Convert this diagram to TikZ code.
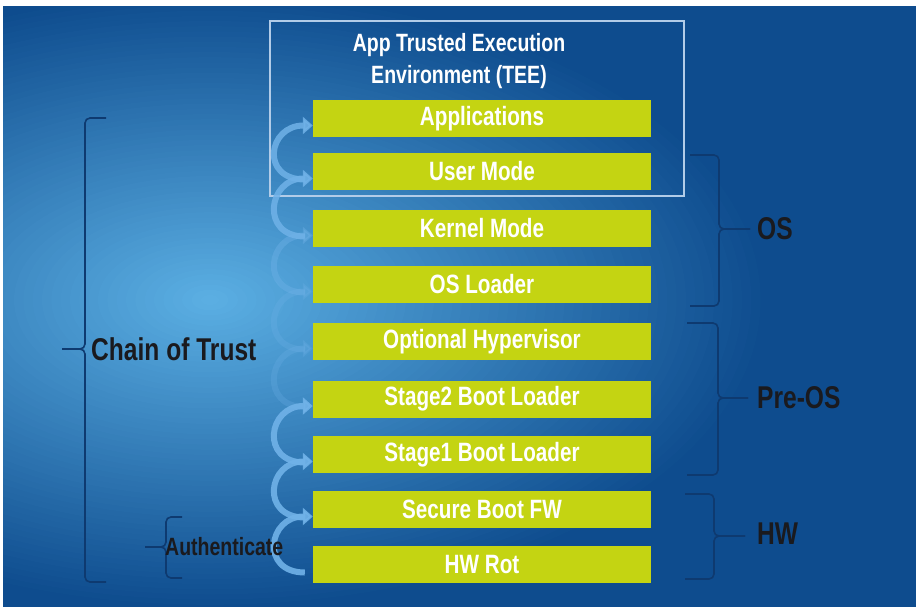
\documentclass[tikz,border=0pt]{standalone}
\usepackage{fontspec}
\setmainfont{Liberation Sans}[FakeStretch=0.78]
\usetikzlibrary{arrows.meta}

\definecolor{bgblue}{RGB}{14,76,142}
\definecolor{glowblue}{RGB}{92,176,228}
\definecolor{barlime}{RGB}{196,212,18}
\definecolor{braceblue}{RGB}{14,58,112}
\definecolor{ribbon}{RGB}{112,178,232}
\definecolor{teeframe}{RGB}{178,204,232}
\definecolor{inkblack}{RGB}{26,26,30}

\begin{document}
\begin{tikzpicture}[x=1pt, y=-1pt, font=\bfseries,
  layer/.style={fill=barlime, text=white, minimum width=338pt, minimum height=37pt,
    inner sep=0pt, font=\bfseries\fontsize{26.5}{30}\selectfont},
  spiral/.style={draw=ribbon, line width=6pt, -{Triangle[length=10pt,width=17pt]}},
  bracket/.style={draw=braceblue, line width=1.6pt, rounded corners=5pt},
  tag/.style={text=inkblack, anchor=west, inner sep=0pt, font=\bfseries\fontsize{31.5}{36}\selectfont}]

  \useasboundingbox (0,0) rectangle (916,606);

  % ── Background with light glow on the left ─────────────────────────
  \fill[white] (0,0) rectangle (916,606);
  \begin{scope}
    \clip (3,6) rectangle (920,610);
    \fill[bgblue] (3,6) rectangle (920,610);
    \foreach \k in {1,...,59} {
      \pgfmathsetmacro\pk{100*\k/60}
      \pgfmathsetmacro\sk{1-\k/60}
      \fill[glowblue!\pk!bgblue] (210,300) ellipse ({560*\sk} and {310*\sk});
    }
  \end{scope}

  % ── TEE frame ──────────────────────────────────────────────────────
  \draw[teeframe, line width=1.2pt] (270,21) rectangle (684,196);
  \node[text=white, align=center, font=\bfseries\fontsize{25}{32}\selectfont] (tee) at (459,61)
    {App Trusted Execution\\Environment (TEE)};

  % ── Layers of the boot stack ───────────────────────────────────────
  \node[layer] (app)    at (482,118.5) {Applications};
  \node[layer] (user)   at (482,171.5) {User Mode};
  \node[layer] (kernel) at (482,228.5) {Kernel Mode};
  \node[layer] (loader) at (482,284.5) {OS Loader};
  \node[layer] (hyper)  at (482,341.5) {Optional Hypervisor};
  \node[layer] (stage2) at (482,399)   {Stage2 Boot Loader};
  \node[layer] (stage1) at (482,454.5) {Stage1 Boot Loader};
  \node[layer] (sbfw)   at (482,509.5) {Secure Boot FW};
  \node[layer] (hwrot)  at (482,564.5) {HW Rot};

  % ── Spiral arrows: each layer hands trust to the next one up ───────
  \foreach \lo/\up/\op in {hwrot/sbfw/0.9, sbfw/stage1/0.9, stage1/stage2/0.9,
      stage2/hyper/0.25, hyper/loader/0.25, loader/kernel/0.4,
      kernel/user/0.85, user/app/0.85} {
    \draw[spiral, opacity=\op] ([shift={(-8,8)}]\lo.west)
      .. controls +(-45,0) and +(-45,0) .. ([shift={(0,7)}]\up.west);
  }

  % ── Left brackets ──────────────────────────────────────────────────
  \draw[bracket] (106,118) -- (85,118) -- (85,349) -- (62,349);
  \draw[bracket] (106,582) -- (85,582) -- (85,349) -- (62,349);
  \node[tag] (chain) at (91,349) {Chain of Trust};

  \draw[bracket] (182,517) -- (166,517) -- (166,547) -- (145,547);
  \draw[bracket] (182,578) -- (166,578) -- (166,547) -- (145,547);
  \node[tag, font=\bfseries\fontsize{25}{28}\selectfont] (auth) at (165,547) {Authenticate};

  % ── Right brackets ─────────────────────────────────────────────────
  \draw[bracket] (690,155) -- (719,155) -- (719,229) -- (750,229);
  \draw[bracket] (690,306) -- (719,306) -- (719,229) -- (750,229);
  \node[tag] (os) at (757,229) {OS};

  \draw[bracket] (687,323) -- (718,323) -- (718,398) -- (748,398);
  \draw[bracket] (687,475) -- (718,475) -- (718,398) -- (748,398);
  \node[tag] (preos) at (757,398) {Pre-OS};

  \draw[bracket] (685,494) -- (714,494) -- (714,536) -- (745,536);
  \draw[bracket] (685,579) -- (714,579) -- (714,536) -- (745,536);
  \node[tag] (hw) at (757,534) {HW};

\end{tikzpicture}
\end{document}
